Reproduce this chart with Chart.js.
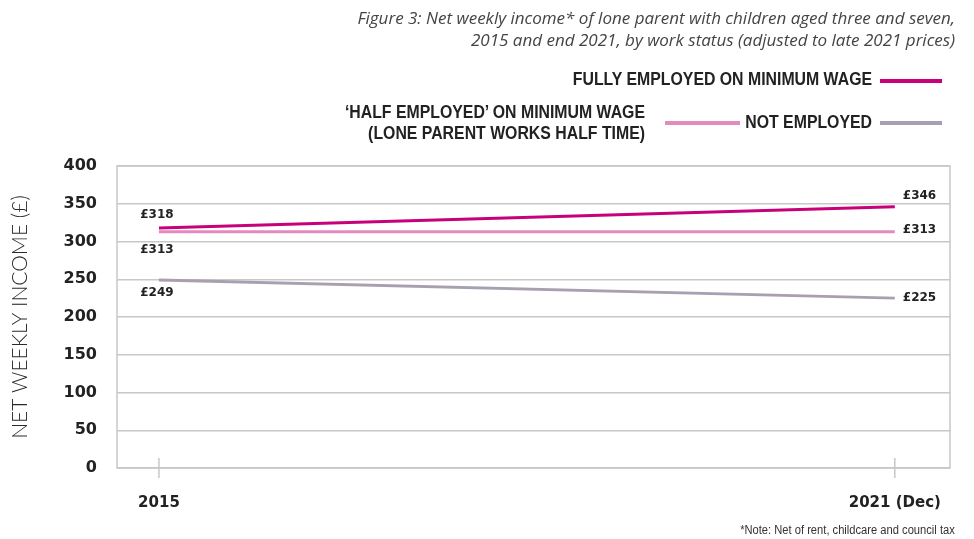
<!DOCTYPE html>
<html>
<head>
<meta charset="utf-8">
<script src="https://cdn.jsdelivr.net/npm/chart.js@4.4.0/dist/chart.umd.min.js"></script>
<style>
  html, body { margin: 0; padding: 0; background: #fff; }
  #wrap { position: relative; width: 974px; height: 539px; overflow: hidden; }
  #chart { position: absolute; left: 0; top: 0; }
  .title { position: absolute; right: 19px; top: 7px; text-align: right;
           font: italic 17px "Open Sans", sans-serif; color: #444; line-height: 22px;
           transform: scaleX(1.0); transform-origin: right top; white-space: nowrap; }
  .leg { position: absolute; font: bold 18px "Liberation Sans", sans-serif;
         color: #222; text-align: right; line-height: 21px; white-space: nowrap;
         transform: scaleX(0.88); transform-origin: right top; }
  .sw { position: absolute; height: 4px; }
  .note { position: absolute; right: 19px; top: 523px; white-space: nowrap;
          font: 12px "Liberation Sans", sans-serif; color: #333;
          transform: scaleX(0.93); transform-origin: right top; }
</style>
</head>
<body>
<div id="wrap">
  <canvas id="chart" width="974" height="539"></canvas>
  <div class="title">Figure 3: Net weekly income* of lone parent with children aged three and seven,<br>2015 and end 2021, by work status (adjusted to late 2021 prices)</div>
  <div id="legend"></div>
  <div class="note">*Note: Net of rent, childcare and council tax</div>
</div>
<script>
// Datos del gráfico
const xLabels = ['2015', '2021 (Dec)'];
const xPos = [0, 1];
const seriesNames = ['FULLY EMPLOYED ON MINIMUM WAGE', '\u2018HALF EMPLOYED\u2019 ON MINIMUM WAGE\n(LONE PARENT WORKS HALF TIME)', 'NOT EMPLOYED'];
const fullyEmployed = [318, 346];
const halfEmployed = [313, 313];
const notEmployed = [249, 225];
const seriesColors = ['#c8007a', '#e38bbf', '#a8a0b0'];
const yTicks = [0, 50, 100, 150, 200, 250, 300, 350, 400];

// Posición de las etiquetas (solo estilo): [dx, dy] para el punto izquierdo y derecho
const labelOffsets = [
  [[-2, -13], [8, -11]],
  [[-2, 18], [8, -2]],
  [[-2, 13], [8, 0]]
];

const allSeries = [fullyEmployed, halfEmployed, notEmployed];

// Leyenda en HTML
const legendBoxes = [
  { right: 102, top: 69, sw: [880, 79] },
  { right: 329, top: 102, sw: [665, 121] },
  { right: 102, top: 112, sw: [880, 121] }
];
const legendEl = document.getElementById('legend');
seriesNames.forEach((name, i) => {
  const b = legendBoxes[i];
  const t = document.createElement('div');
  t.className = 'leg';
  t.style.right = b.right + 'px';
  t.style.top = b.top + 'px';
  t.innerHTML = name.replace('\n', '<br>');
  legendEl.appendChild(t);
  const s = document.createElement('div');
  s.className = 'sw';
  s.style.left = b.sw[0] + 'px';
  s.style.top = b.sw[1] + 'px';
  s.style.width = (i === 1 ? 75 : 62) + 'px';
  s.style.background = seriesColors[i];
  legendEl.appendChild(s);
});

// Etiquetas de valor junto a los puntos
const valueLabels = {
  id: 'valueLabels',
  afterDatasetsDraw(chart) {
    const ctx = chart.ctx;
    ctx.save();
    ctx.font = 'bold 12px "DejaVu Sans", sans-serif';
    ctx.fillStyle = '#222';
    ctx.textBaseline = 'middle';
    chart.data.datasets.forEach((ds, i) => {
      const meta = chart.getDatasetMeta(i);
      meta.data.forEach((pt, j) => {
        const off = labelOffsets[i][j];
        ctx.textAlign = j === 0 ? 'center' : 'left';
        ctx.fillText('\u00a3' + allSeries[i][j], pt.x + off[0], pt.y + off[1]);
      });
    });
    ctx.restore();
  }
};

// Marco del área y marcas del eje X
const frame = {
  id: 'frame',
  beforeDatasetsDraw(chart) {
    const { ctx, chartArea: a } = chart;
    const xs = chart.scales.x;
    ctx.save();
    ctx.strokeStyle = '#c8c8c8';
    ctx.lineWidth = 1.5;
    ctx.strokeRect(a.left, a.top, a.right - a.left, a.bottom - a.top);
    xPos.forEach(v => {
      const px = xs.getPixelForValue(v);
      ctx.beginPath();
      ctx.moveTo(px, a.bottom - 10);
      ctx.lineTo(px, a.bottom + 10);
      ctx.stroke();
    });
    ctx.restore();
  }
};

new Chart(document.getElementById('chart'), {
  type: 'line',
  data: {
    datasets: allSeries.map((vals, i) => ({
      label: seriesNames[i],
      data: vals.map((v, j) => ({ x: xPos[j], y: v })),
      borderColor: seriesColors[i],
      backgroundColor: seriesColors[i],
      borderWidth: 3,
      pointRadius: 0,
      tension: 0
    }))
  },
  options: {
    responsive: false,
    animation: false,
    layout: { padding: { top: 166, right: 24, left: 0, bottom: 0 } },
    plugins: { legend: { display: false }, tooltip: { enabled: false } },
    scales: {
      x: {
        type: 'linear',
        min: -0.057,
        max: 1.075,
        afterBuildTicks: s => { s.ticks = xPos.map(v => ({ value: v })); },
        afterFit: s => { s.height = 71; },
        grid: { display: false },
        border: { display: false },
        ticks: {
          padding: 18,
          font: { family: '"DejaVu Sans"', weight: 'bold', size: 15 },
          color: '#222',
          callback: v => xLabels[xPos.indexOf(v)]
        }
      },
      y: {
        min: 0,
        max: 400,
        afterBuildTicks: s => { s.ticks = yTicks.map(v => ({ value: v })); },
        afterFit: s => { s.width = 117; },
        grid: { color: '#c8c8c8', lineWidth: 1.5, drawTicks: false },
        border: { display: false },
        ticks: {
          padding: 20,
          font: { family: '"DejaVu Sans"', weight: 'bold', size: 16 },
          color: '#222'
        },
        title: {
          display: true,
          text: 'NET WEEKLY INCOME (\u00a3)',
          font: { family: 'Lato', weight: '300', size: 21 },
          color: '#2a2a2a',
          padding: { top: 8, bottom: 0 }
        }
      }
    }
  },
  plugins: [frame, valueLabels]
});
</script>
</body>
</html>
